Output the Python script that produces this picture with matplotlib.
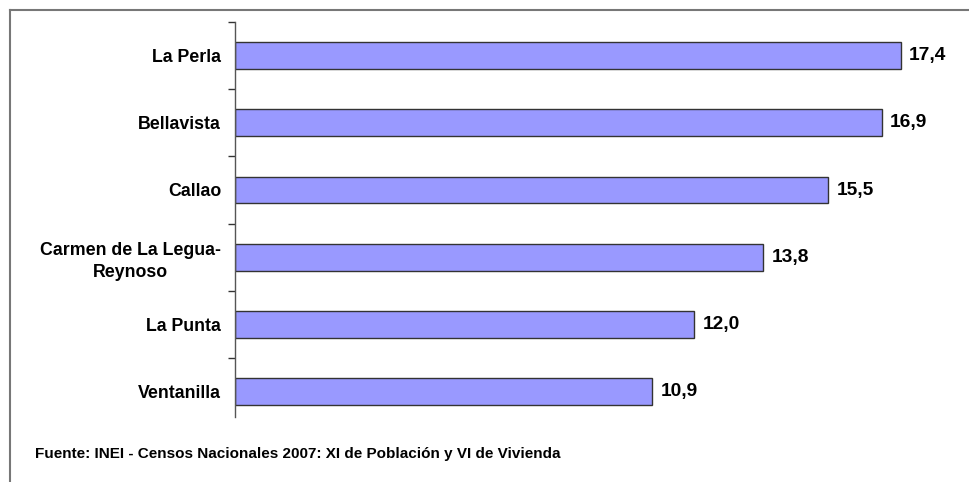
import matplotlib
matplotlib.use("Agg")
import matplotlib.pyplot as plt
from matplotlib.lines import Line2D

# data
districts = ["La Perla", "Bellavista", "Callao", "Carmen de La Legua-\nReynoso", "La Punta", "Ventanilla"]
values = [17.4, 16.9, 15.5, 13.8, 12.0, 10.9]
source = "Fuente: INEI - Censos Nacionales 2007: XI de Población y VI de Vivienda"

plt.rcParams['font.family'] = ['Liberation Sans', 'DejaVu Sans']
plt.rcParams['font.weight'] = 'bold'

W, H = 969, 482
fig = plt.figure(figsize=(W / 100, H / 100), dpi=100)

# axes placed in pixel terms
left, right, top, bottom = 235, 962, 22, 417
ax = fig.add_axes([left / W, 1 - bottom / H, (right - left) / W, (bottom - top) / H])

pos = list(range(len(districts)))
bars = ax.barh(pos, values, height=0.4, color='#9999FF', edgecolor='#333333', linewidth=1.0)

ax.set_xlim(0, 19)
ax.set_ylim(-0.5 + (bottom - top) / 67.2, -0.5)

# ticks between categories, labels at centers
ax.set_yticks([p - 0.5 for p in pos])
ax.set_yticklabels([])
ax.set_yticks(pos, minor=True)
ax.set_yticklabels(districts, minor=True, fontsize=12.8, fontweight='bold')
ax.tick_params(axis='y', which='major', length=5, width=1, color='#333333', direction='out')
ax.tick_params(axis='y', which='minor', length=0, pad=10)
for lab in ax.get_yticklabels(minor=True):
    lab.set_multialignment('center')
    lab.set_linespacing(1.35)

ax.set_xticks([])
for s in ['top', 'right', 'bottom']:
    ax.spines[s].set_visible(False)
ax.spines['left'].set_color('#555555')
ax.spines['left'].set_linewidth(1)

ax.bar_label(bars, labels=[f"{v:.1f}".replace('.', ',') for v in values],
             padding=6, fontsize=13.8, fontweight='bold')

fig.text(35 / W, 1 - 454 / H, source, fontsize=11, fontweight='bold', va='center', ha='left')

# outer frame (only top and left edges are visible in the crop)
fig.add_artist(Line2D([9.5 / W, 1.0], [1 - 9.5 / H, 1 - 9.5 / H], color='#777777', linewidth=1.5,
                      transform=fig.transFigure))
fig.add_artist(Line2D([9.5 / W, 9.5 / W], [1 - 9.5 / H, 0.0], color='#777777', linewidth=1.5,
                      transform=fig.transFigure))

fig.savefig("out.png", dpi=100)
